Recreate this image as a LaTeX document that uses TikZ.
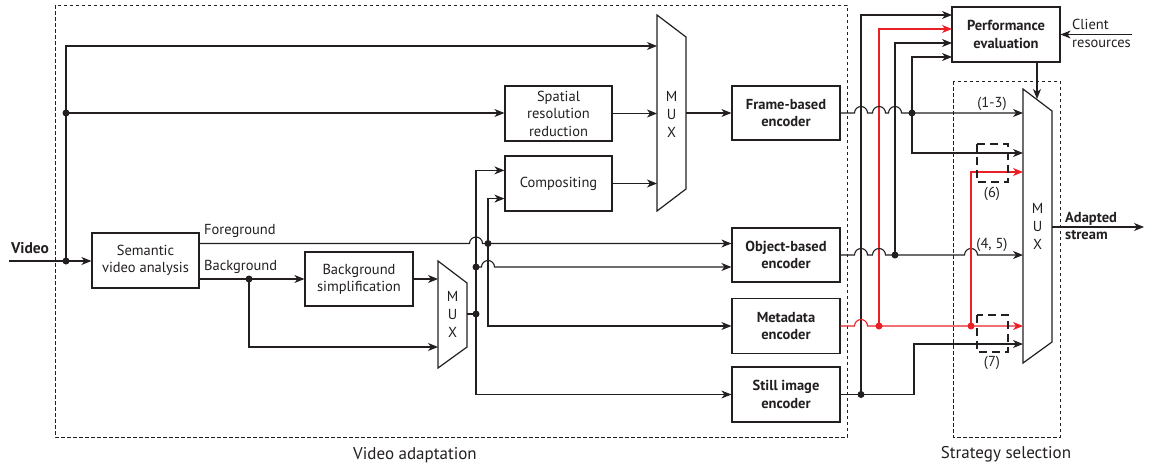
\documentclass[tikz,border=0pt]{standalone}
\usepackage{fontspec}
\setmainfont{PT Sans}
\usetikzlibrary{arrows.meta,calc}
\definecolor{ink}{RGB}{35,31,32}
\definecolor{alert}{RGB}{234,32,39}
% small semicircular bridge where a wire crosses the vertical line #1 at the height of #2
\newcommand\hop[2]{-- ($(#1 |- #2)+(-6.5,0)$) arc[start angle=180,end angle=0,radius=6.5pt]}
\tikzset{
  wire/.style={draw=ink, line width=1.1pt},
  arr/.style={wire, -{Stealth[length=10pt,width=8pt,inset=3pt]}},
  redwire/.style={draw=alert, line width=1.1pt},
  redarr/.style={redwire, -{Stealth[length=10pt,width=8pt,inset=3pt]}},
  blk/.style={draw=ink, line width=1.2pt, minimum width=107pt, minimum height=55pt,
    inner sep=1pt, align=center, text=ink, font=\fontsize{14.5}{17.3}\selectfont},
  enc/.style={blk, minimum width=108pt, font=\fontsize{14.5}{17.3}\selectfont\bfseries},
  jdot/.style={circle, fill=ink, inner sep=0pt, minimum size=7pt},
  rdot/.style={jdot, fill=alert},
  regionbox/.style={draw=ink, line width=0.9pt, dash pattern=on 3.5pt off 2.5pt},
  optbox/.style={draw=ink, line width=1.1pt, dash pattern=on 8pt off 5pt},
  lbl/.style={font=\fontsize{14.5}{17}\selectfont, inner sep=0pt, text=ink, align=left},
  bigl/.style={font=\fontsize{17}{20}\selectfont, inner sep=0pt, text=ink},
  muxtxt/.style={font=\fontsize{14.5}{18}\selectfont, align=center, inner sep=0pt, text=ink},
  muxbody/.style={draw=ink, line width=1.2pt, line join=miter},
}
\begin{document}
\begin{tikzpicture}[x=1pt,y=-1pt]
\useasboundingbox (0,0) rectangle (1149,469);

% dashed regions
\draw[regionbox] (55,5) rectangle (847,437);
\draw[regionbox] (953,81) rectangle (1060,437);
\node[bigl] (lva) at (415,455) {Video adaptation};
\node[bigl] (lss) at (1006,454) {Strategy selection};

% processing blocks
\node[blk] (sem) at (145.5,260.5) {Semantic\\video analysis};
\node[blk, minimum width=108pt, minimum height=54pt] (bgs) at (359,279) {Background\\simplification};
\node[blk, font=\fontsize{14.5}{17.5}\selectfont] (spat) at (558.5,113.5) {Spatial\\resolution\\reduction};
\node[blk] (comp) at (558.5,183.5) {Compositing};
\node[enc, minimum height=54pt] (frm) at (786,113) {Frame-based\\encoder};
\node[enc, minimum height=54pt] (obj) at (786,255) {Object-based\\encoder};
\node[enc] (meta) at (786,326) {Metadata\\encoder};
\node[enc] (still) at (786,394.5) {Still image\\encoder};
\node[enc] (perf) at (1006,34.5) {Performance\\evaluation};

% multiplexers
\draw[muxbody] (657,15) -- (686,37) -- (686,189) -- (657,211) -- cycle;
\node[muxtxt] (mux1) at (671.5,114) {M\\U\\X};
\draw[muxbody] (438,261) -- (467,283) -- (467,347) -- (438,368) -- cycle;
\node[muxtxt] (mux2) at (452.5,314) {M\\U\\X};
\draw[muxbody] (1023,89) -- (1052,111) -- (1052,342) -- (1023,363) -- cycle;
\node[muxtxt] (mux3) at (1037.5,226) {M\\U\\X};

% reference points on the multiplexer edges
\coordinate (m1L) at (657,113);
\coordinate (m1R) at (686,113);
\coordinate (m2L) at (438,314);
\coordinate (m2R) at (467,314);
\coordinate (m3L) at (1023,227);
\coordinate (m3R) at (1052,227);
\coordinate (m3top) at (1037,99);

% junctions
\coordinate (vin) at (9,261);
\coordinate (jv) at (66,261);
\coordinate (jt) at (66,113);
\coordinate (tp) at (66,46);
\coordinate (j249) at (249,279);
\coordinate (bgl) at (249,347);
\coordinate (j476) at (476,314);
\coordinate (k476) at (476,267);
\coordinate (j488) at (488,243.5);
\coordinate (e1) at (861,394.5);
\coordinate (e2) at (879,326);
\coordinate (e3) at (895,255);
\coordinate (e4) at (912,113);
\coordinate (e5) at (971,326);
\coordinate (ty1) at (952,15);
\coordinate (ty2) at (952,29);
\coordinate (ty3) at (952,43);
\coordinate (ty4) at (952,57);
\coordinate (ty5) at (1023,153);
\coordinate (ty6) at (1023,172);
\coordinate (ty7) at (1023,344);
\coordinate (cl) at (1132,34.5);
\coordinate (outp) at (1144,227);

% input side
\node[font=\fontsize{15.5}{18}\selectfont\bfseries, text=ink, inner sep=0pt] (lvid) at (30,248) {Video};
\draw[arr] (vin) -- (sem.west |- vin);
\draw[arr] (jv) -- (tp) -- (m1L |- tp);
\draw[arr] (jt) -- (spat.west |- jt);

\node[lbl, anchor=west] (lfg) at (204,231) {Foreground};
\node[lbl, anchor=west] (lbg) at (204,267) {Background};
\draw[arr] (sem.east |- j488) \hop{j476}{j488} -- (obj.west |- j488);
\draw[arr] (sem.east |- bgs.west) -- (bgs.west);
\draw[arr] (j249) -- (bgl) -- (m2L |- bgl);
\draw[arr] (bgs.east) -- (m2L |- bgs.east);

\draw[wire] (m2R) -- (j476);
\draw[arr] (j476) |- ($(comp.north west)+(0,15)$);
\draw[arr] (j476) |- (still.west);
\draw[arr] (k476) \hop{j488}{k476} -- (obj.west |- k476);
\draw[arr] (j488) |- ($(comp.south west)+(0,-13)$);
\draw[arr] (j488) |- (meta.west);

\draw[arr] (spat.east) -- (m1L |- spat.east);
\draw[arr] (comp.east) -- (m1L |- comp.east);
\draw[arr] (m1R) -- (frm.west);

% feedback to performance evaluation
\draw[arr] (e1) |- (ty1);
\draw[redarr] (e2) |- (ty2);
\draw[arr] (e3) |- (ty3);
\draw[arr] (e4) |- (ty4);
\draw[arr] (e4) |- (ty5);

% encoder outputs into the strategy multiplexer
\draw[arr] (frm.east) \hop{e1}{frm.east} \hop{e2}{frm.east} \hop{e3}{frm.east} -- (m3L |- frm.east);
\draw[arr] (obj.east) \hop{e1}{obj.east} \hop{e2}{obj.east} -- (e3) \hop{e5}{obj.east} -- (m3L |- obj.east);
\draw[redarr] (meta.east) \hop{e1}{meta.east} -- (m3L |- meta.east);
\draw[redarr] (e5) |- (ty6);
\draw[arr] (still.east) -| ($(ty7)+(-109,0)$) -- (ty7);

\node[lbl] (l13) at (992,104) {(1-3)};
\node[lbl] (l6) at (992,194) {(6)};
\node[lbl] (l45) at (992,245) {(4, 5)};
\node[lbl] (l7) at (992,363) {(7)};
\draw[optbox] (977,144) rectangle (1008,182);
\draw[optbox] (977,315) rectangle (1008,352);

% control and output
\draw[arr] (m3top |- perf.south) -- (m3top);
\draw[arr] (cl) -- (perf.east);
\node[lbl, anchor=west, font=\fontsize{14.5}{18}\selectfont] (lcl) at (1072,33.5) {Client\\resources};
\draw[arr] (m3R) -- (outp);
\node[lbl, anchor=west, font=\fontsize{14.5}{16.5}\selectfont\bfseries] (lout) at (1065,226) {Adapted\\stream};

% junction dots
\node[jdot] (d1) at (jv) {};
\node[jdot] (d2) at (jt) {};
\node[jdot] (d3) at (j249) {};
\node[jdot] (d4) at (j476) {};
\node[jdot] (d5) at (k476) {};
\node[jdot] (d6) at (j488) {};
\node[jdot] (d7) at (e1) {};
\node[rdot] (d8) at (e2) {};
\node[jdot] (d9) at (e3) {};
\node[jdot] (d10) at (e4) {};
\node[rdot] (d11) at (e5) {};
\end{tikzpicture}
\end{document}
